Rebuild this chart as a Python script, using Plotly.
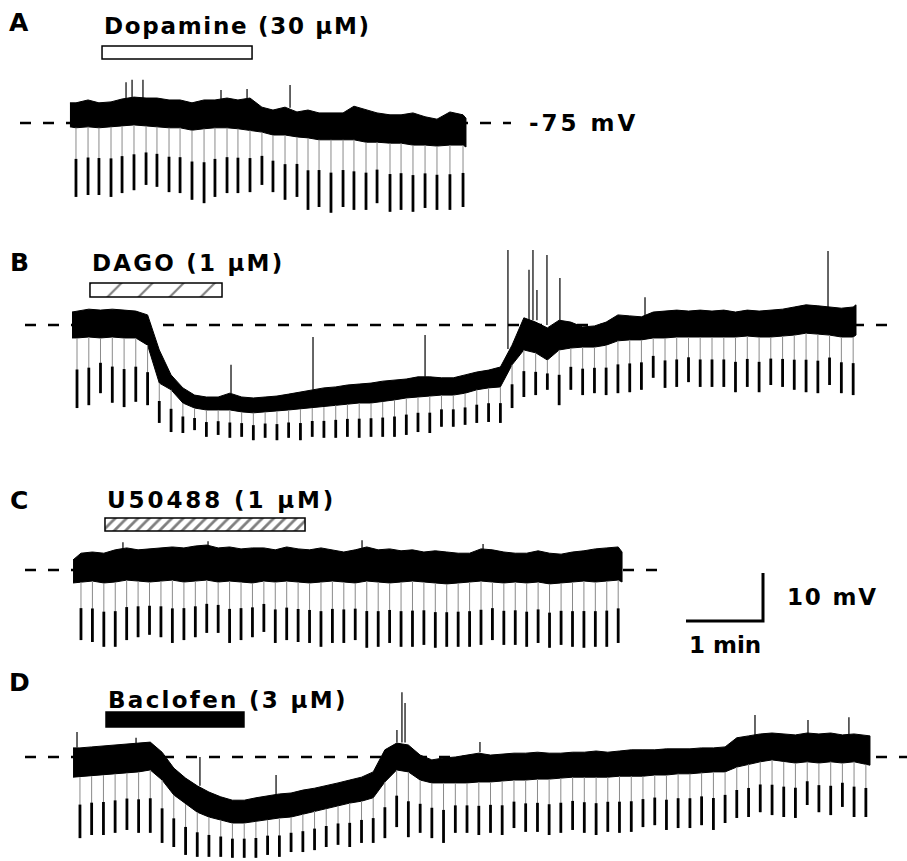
import plotly.graph_objects as go

# ---------------------------------------------------------------
# DATA  (time in s from start of each record,
# membrane potential in mV)
# ---------------------------------------------------------------
REST_MV = -75
SCALE_S = 60        # horizontal scale bar = 1 min
SCALE_MV = 10       # vertical scale bar = 10 mV

panel_letters = ["A", "B", "C", "D"]
drug_names = ["Dopamine (30 μM)", "DAGO (1 μM)", "U50488 (1 μM)", "Baclofen (3 μM)"]
drug_on_s = [23.4, 14.0, 25.7, 26.5]
drug_off_s = [140.3, 116.9, 181.6, 134.0]

# ---- A: dopamine ----
a_start_s, a_end_s = -1.6, 307.0
a_pulse_s = [3.1, 12.5, 21.0, 30.4, 39.0, 48.3, 57.7, 66.2, 75.6, 84.2, 93.5, 102.9,
             111.4, 120.8, 129.3, 138.7, 148.0, 156.6, 166.0, 175.3, 183.9, 192.5,
             201.8, 211.2, 219.7, 229.1, 237.7, 247.8, 256.4, 265.7, 275.1, 284.4,
             294.5, 304.7]
a_trough_mv = [-90.4, -90.0, -90.0, -90.4, -89.6, -89.0, -87.9, -88.3, -89.4, -89.6,
               -91.0, -91.7, -90.4, -89.6, -89.6, -89.4, -87.9, -89.4, -91.0, -90.4,
               -93.1, -92.5, -93.7, -92.5, -93.1, -93.1, -91.7, -93.5, -93.1, -93.5,
               -92.7, -93.1, -93.1, -92.5]
a_top_mv = [-70.8, -70.8, -70.2, -70.8, -70.6, -70.0, -69.6, -69.8, -69.8, -70.2,
            -70.2, -70.8, -70.2, -70.2, -69.8, -70.2, -69.8, -71.7, -72.3, -71.7,
            -72.7, -72.3, -72.9, -72.9, -72.9, -71.5, -72.3, -72.9, -73.3, -73.3,
            -72.9, -73.7, -74.2, -72.7, -73.3, -74.0]
a_bot_mv = [-75.8, -76.0, -75.8, -76.0, -75.8, -75.6, -75.4, -75.6, -75.8, -76.0,
            -76.0, -76.5, -76.2, -76.0, -76.0, -76.2, -76.5, -76.9, -77.5, -77.5,
            -77.9, -78.1, -78.5, -78.5, -78.5, -78.5, -79.0, -79.0, -79.2, -79.2,
            -79.6, -79.6, -79.8, -79.6, -79.6, -80.0]
a_spike_s = [42.1, 46.8, 55.3, 116.1, 136.4, 169.9]
a_spike_base_mv = [-70.0, -69.6, -69.8, -70.2, -69.8, -71.8]
a_spike_peak_mv = [-66.5, -66.0, -66.0, -68.1, -67.9, -67.1]

# ---- B: DAGO ----
b_start_s, b_end_s = 0.0, 610.9
b_pulse_s = [3.9, 13.1, 22.2, 31.4, 40.6, 49.7, 58.9, 68.0, 77.2, 86.4, 95.5, 104.7,
             113.9, 123.0, 132.2, 141.3, 150.5, 159.7, 168.8, 178.0, 187.2, 196.3,
             205.5, 214.6, 223.8, 233.0, 242.1, 251.3, 260.5, 269.6, 278.8, 287.9,
             297.1, 306.3, 315.4, 324.6, 333.8, 342.9, 352.1, 361.3, 370.4, 379.6,
             388.7, 397.9, 407.1, 416.2, 425.4, 434.6, 443.7, 452.9, 462.1, 471.2,
             480.4, 489.5, 498.7, 507.9, 517.0, 526.2, 535.4, 544.5, 553.7, 562.8,
             572.0, 581.2, 590.3, 599.5, 608.7]
b_trough_mv = [-92.3, -91.7, -89.2, -91.2, -92.1, -91.0, -91.7, -95.4, -97.3, -97.5,
               -96.9, -98.3, -97.9, -98.5, -98.3, -99.0, -98.5, -99.0, -98.5, -99.0,
               -98.3, -98.5, -98.5, -98.3, -98.5, -98.3, -98.3, -98.3, -97.9, -97.3,
               -97.5, -96.2, -96.2, -95.8, -95.4, -95.2, -95.4, -92.3, -90.0, -89.6,
               -88.5, -91.7, -88.5, -89.6, -89.2, -89.6, -89.2, -89.0, -88.5, -86.0,
               -88.1, -87.9, -86.9, -87.9, -87.9, -87.9, -89.0, -87.9, -89.0, -87.5,
               -87.9, -88.5, -89.0, -89.2, -87.5, -89.2, -89.6]
b_top_mv = [-72.3, -72.1, -71.7, -71.9, -71.7, -71.9, -72.1, -72.9, -80.2, -85.4,
            -88.1, -89.6, -90.0, -90.0, -89.2, -90.0, -90.2, -90.0, -89.8, -89.4,
            -89.0, -88.5, -88.1, -87.9, -87.5, -87.3, -87.1, -86.7, -86.5, -86.25,
            -85.8, -85.8, -86.0, -86.0, -85.4, -84.8, -84.4, -83.75, -79.2, -73.5,
            -74.4, -75.6, -74.0, -74.4, -75.4, -75.2, -74.4, -72.9, -73.1, -73.3,
            -72.3, -72.1, -71.9, -72.1, -71.9, -72.1, -71.9, -72.3, -71.9, -72.1,
            -71.9, -71.7, -71.25, -70.8, -71.0, -71.25, -71.5, -71.25, -70.8]
b_bot_mv = [-77.7, -77.7, -77.5, -77.7, -77.5, -77.7, -77.7, -79.2, -87.1, -88.5,
            -91.25, -92.3, -92.7, -92.7, -92.7, -93.1, -93.3, -93.1, -92.9, -92.7,
            -92.5, -92.3, -92.1, -91.7, -91.5, -91.25, -91.25, -91.0, -90.6, -90.2,
            -90.0, -89.8, -89.6, -89.6, -89.2, -88.5, -88.1, -87.9, -83.3, -80.2,
            -80.8, -82.3, -80.2, -79.8, -79.6, -79.6, -79.2, -78.3, -78.1, -78.1,
            -77.7, -77.7, -77.5, -77.5, -77.5, -77.5, -77.5, -77.5, -77.3, -77.5,
            -77.5, -77.3, -77.1, -76.7, -76.9, -77.1, -77.5, -77.5, -77.1]
b_spike_s = [123.9, 187.8, 275.1, 339.7, 356.1, 359.2, 362.3, 370.1, 380.2, 446.5, 589.1]
b_spike_base_mv = [-89.2, -88.5, -85.8, -80.0, -74.0, -74.0, -74.0, -75.0, -74.0, -73.0, -71.5]
b_spike_peak_mv = [-83.3, -77.5, -77.1, -59.4, -63.5, -59.4, -67.7, -60.4, -65.2, -69.2, -59.6]

# ---- C: U50488 ----
c_start_s, c_end_s = 0.8, 428.6
c_pulse_s = [7.0, 15.9, 24.8, 33.7, 42.6, 51.5, 60.4, 69.3, 78.2, 87.2, 96.1, 105.0,
             113.9, 122.8, 131.7, 140.6, 149.5, 158.4, 167.3, 176.2, 185.1, 194.0,
             202.9, 211.8, 220.7, 229.7, 238.6, 247.5, 256.4, 265.3, 274.2, 283.1,
             292.0, 300.9, 309.8, 318.7, 327.6, 336.5, 345.4, 354.3, 363.2, 372.1,
             381.1, 390.0, 398.9, 407.8, 416.7, 425.6]
c_trough_mv = [-89.6, -90.0, -91.0, -91.0, -89.6, -89.0, -88.5, -89.0, -90.2, -89.6,
               -89.0, -88.1, -88.1, -90.2, -89.6, -89.0, -87.9, -90.2, -89.6, -90.0,
               -90.2, -91.0, -90.2, -90.2, -89.6, -91.2, -91.0, -90.2, -91.0, -91.0,
               -90.6, -91.2, -91.0, -91.0, -91.0, -90.6, -89.6, -90.6, -90.6, -91.0,
               -90.2, -91.2, -90.6, -91.0, -91.2, -91.0, -91.0, -90.2]
c_top_mv = [-72.9, -71.5, -71.25, -71.5, -70.8, -70.4, -70.8, -70.6, -70.4, -70.2,
            -70.4, -70.0, -69.8, -70.4, -70.2, -70.6, -70.4, -70.4, -70.8, -70.2,
            -70.6, -70.8, -70.4, -70.8, -71.25, -70.8, -70.2, -70.8, -70.6, -71.0,
            -70.8, -71.25, -71.0, -71.25, -71.5, -71.5, -70.6, -70.8, -71.25, -71.5,
            -71.5, -71.0, -71.5, -71.7, -71.25, -71.0, -70.6, -70.4, -70.2, -71.25]
c_bot_mv = [-77.7, -77.5, -77.3, -77.7, -77.5, -77.1, -77.3, -77.5, -77.3, -77.1,
            -77.5, -77.3, -77.1, -77.5, -77.3, -77.5, -77.7, -77.3, -77.5, -77.3,
            -77.5, -77.7, -77.5, -77.3, -77.5, -77.7, -77.3, -77.5, -77.7, -77.5,
            -77.3, -77.5, -77.7, -77.9, -77.7, -77.5, -77.3, -77.5, -77.7, -77.5,
            -77.7, -77.5, -77.9, -77.7, -77.5, -77.3, -77.5, -77.3, -77.1, -77.5]
c_spike_s = [39.7, 106.0, 226.0, 320.3]
c_spike_base_mv = [-71.0, -70.5, -71.0, -71.0]
c_spike_peak_mv = [-69.2, -69.0, -68.8, -69.6]

# ---- D: baclofen ----
d_start_s, d_end_s = 0.8, 621.8
d_pulse_s = [6.2, 15.3, 24.5, 33.6, 42.8, 51.9, 61.0, 70.2, 79.3, 88.5, 97.6, 106.7,
             115.9, 125.0, 134.2, 143.3, 152.4, 161.6, 170.7, 179.9, 189.0, 198.1,
             207.3, 216.4, 225.6, 234.7, 243.8, 253.0, 262.1, 271.3, 280.4, 289.5,
             298.7, 307.8, 317.0, 326.1, 335.2, 344.4, 353.5, 362.7, 371.8, 380.9,
             390.1, 399.2, 408.4, 417.5, 426.6, 435.8, 444.9, 454.1, 463.2, 472.3,
             481.5, 490.6, 499.8, 508.9, 518.0, 527.2, 536.3, 545.5, 554.6, 563.7,
             572.9, 582.0, 591.2, 600.3, 609.4, 618.6]
d_trough_mv = [-91.9, -91.25, -91.25, -90.8, -90.2, -90.8, -90.8, -92.9, -93.75, -95.4,
               -95.8, -95.8, -95.8, -96.0, -96.0, -96.0, -95.4, -95.8, -94.8, -94.8,
               -94.4, -93.75, -93.3, -93.75, -92.9, -92.9, -91.9, -89.6, -91.7, -90.8,
               -91.9, -92.9, -90.8, -90.8, -91.25, -90.8, -91.25, -89.8, -90.6, -90.6,
               -91.25, -90.8, -90.2, -90.8, -91.25, -90.6, -90.8, -90.6, -89.6, -89.2,
               -90.2, -89.8, -89.8, -89.2, -90.2, -88.75, -87.7, -87.5, -86.5, -87.1,
               -87.5, -87.7, -85.0, -86.5, -87.1, -85.4, -87.5, -87.5]
d_top_mv = [-73.1, -73.1, -72.9, -72.7, -72.5, -72.3, -72.1, -71.9, -74.0, -77.3,
            -79.4, -81.0, -82.3, -83.3, -84.0, -84.0, -83.5, -83.1, -82.7, -82.5,
            -81.9, -81.5, -81.0, -80.4, -79.8, -79.2, -78.1, -73.5, -72.1, -72.5,
            -74.6, -75.6, -75.2, -75.0, -74.6, -74.2, -74.6, -74.4, -74.2, -74.2,
            -74.0, -74.2, -74.2, -74.0, -74.0, -73.75, -74.0, -73.75, -73.5, -73.5,
            -73.5, -73.3, -73.3, -73.3, -73.1, -73.1, -72.9, -71.0, -70.6, -70.2,
            -70.0, -70.2, -70.4, -70.0, -70.2, -70.0, -70.4, -70.2, -70.4, -70.6]
d_bot_mv = [-79.2, -79.2, -79.0, -78.75, -78.5, -78.3, -78.1, -77.7, -79.8, -82.9,
            -84.8, -86.5, -87.5, -88.1, -88.75, -88.75, -88.5, -88.1, -87.7, -87.5,
            -86.9, -86.25, -85.8, -85.2, -84.6, -84.2, -83.5, -80.2, -77.7, -78.1,
            -79.8, -80.4, -80.4, -80.4, -80.4, -80.2, -80.2, -80.0, -79.8, -79.8,
            -79.6, -79.6, -79.4, -79.2, -79.2, -79.2, -79.2, -79.0, -79.0, -79.0,
            -78.75, -78.75, -78.5, -78.5, -78.3, -78.1, -78.1, -77.1, -76.5, -76.0,
            -75.6, -76.0, -76.25, -76.0, -76.25, -76.0, -76.25, -76.0, -76.5, -76.7]
d_spike_s = [3.9, 49.9, 99.7, 159.0, 253.2, 257.1, 259.5, 317.9, 532.2, 573.5, 605.4]
d_spike_base_mv = [-73.0, -72.2, -81.0, -82.9, -72.0, -72.0, -72.0, -74.0, -70.5, -70.5, -70.5]
d_spike_peak_mv = [-69.8, -71.0, -75.0, -78.75, -69.4, -61.5, -63.75, -71.9, -66.25, -67.3, -66.7]

# ---------------------------------------------------------------
# LAYOUT CONSTANTS (pixels of the 907 x 861 page)
# ---------------------------------------------------------------
W, H = 907, 861
PX_PER_S = 77 / 60          # 1 min = 77 px
PX_PER_MV = 4.8             # 10 mV = 48 px
X0_PX = 72                  # page x of t = 0
BASELINE_PX = [123, 325, 570, 757]
DASH_PX = [(20, 511), (25, 894), (25, 664), (25, 907)]
BAR_PX = [(52.5, 13), (290, 14), (524.5, 13), (719.5, 15)]   # centre y, height
LABEL_PY = [26, 263, 500, 700]
LABEL_SPACING = [1.7, 2.2, 2.9, 2.3]
LETTER_PY = [22, 263, 500, 682]
LETTER_PX = 19
FONT = "DejaVu Sans"
PULSE_BLACK_FRACTION = 0.55


def tx(px):
    return (px - X0_PX) / PX_PER_S


def ymv(k, py):
    return REST_MV + (BASELINE_PX[k] - py) / PX_PER_MV


def spaced(text, px):
    return f'<span style="letter-spacing:{px}px"><b>{text}</b></span>'


panels = [
    (a_start_s, a_end_s, a_pulse_s, a_trough_mv, a_top_mv, a_bot_mv,
     a_spike_s, a_spike_base_mv, a_spike_peak_mv),
    (b_start_s, b_end_s, b_pulse_s, b_trough_mv, b_top_mv, b_bot_mv,
     b_spike_s, b_spike_base_mv, b_spike_peak_mv),
    (c_start_s, c_end_s, c_pulse_s, c_trough_mv, c_top_mv, c_bot_mv,
     c_spike_s, c_spike_base_mv, c_spike_peak_mv),
    (d_start_s, d_end_s, d_pulse_s, d_trough_mv, d_top_mv, d_bot_mv,
     d_spike_s, d_spike_base_mv, d_spike_peak_mv),
]

bar_markers = [
    dict(color="white", line=dict(color="black", width=1.5)),
    dict(color="white", line=dict(color="black", width=1.5),
         pattern=dict(shape="/", size=22, solidity=0.1, fgcolor="black", bgcolor="white")),
    dict(color="white", line=dict(color="black", width=1.5),
         pattern=dict(shape="/", size=8, solidity=0.35, fgcolor="black", bgcolor="white")),
    dict(color="black", line=dict(color="black", width=1.5)),
]

fig = go.Figure()
shapes, annotations = [], []

for k, (t0, t1, pulse, trough, top, bot, spk, spk_b, spk_p) in enumerate(panels):
    ya = "y" if k == 0 else f"y{k + 1}"

    # noisy baseline band
    bt = [t0] + list(pulse) + [t1]
    fig.add_trace(go.Scatter(
        x=bt + bt[::-1], y=list(top) + list(bot)[::-1], yaxis=ya,
        mode="lines", fill="toself", fillcolor="black",
        line=dict(color="black", width=1), hoverinfo="skip"))

    # hyperpolarising pulses: faint fast edge + dark steady part
    gx, gy, kx, ky = [], [], [], []
    for t, b, tr in zip(pulse, bot[1:-1], trough):
        gx += [t, t, None]
        gy += [b, tr, None]
        m = b + (tr - b) * (1 - PULSE_BLACK_FRACTION)
        kx += [t, t, None]
        ky += [m, tr, None]
    fig.add_trace(go.Scatter(x=gx, y=gy, yaxis=ya, mode="lines",
                             line=dict(color="#8a8a8a", width=1), hoverinfo="skip"))
    fig.add_trace(go.Scatter(x=kx, y=ky, yaxis=ya, mode="lines",
                             line=dict(color="black", width=2.8), hoverinfo="skip"))

    # upward spikes
    sx, sy = [], []
    for t, b, p in zip(spk, spk_b, spk_p):
        sx += [t, t, None]
        sy += [b, p, None]
    fig.add_trace(go.Scatter(x=sx, y=sy, yaxis=ya, mode="lines",
                             line=dict(color="black", width=1.2), hoverinfo="skip"))

    # drug application bar
    cy, hh = BAR_PX[k]
    fig.add_trace(go.Bar(
        orientation="h", base=[drug_on_s[k]], x=[drug_off_s[k] - drug_on_s[k]],
        y=[ymv(k, cy)], width=[hh / PX_PER_MV], yaxis=ya,
        marker=bar_markers[k], hoverinfo="skip"))

    # dashed resting-potential line
    x0p, x1p = DASH_PX[k]
    shapes.append(dict(type="line", xref="x", yref=ya, layer="below",
                       x0=tx(x0p), x1=tx(x1p), y0=REST_MV, y1=REST_MV,
                       line=dict(color="black", width=2.5, dash="11px,12px")))

    # panel letter and drug label
    annotations.append(dict(
        xref="paper", yref="paper", x=LETTER_PX / W, y=1 - LETTER_PY[k] / H,
        text=f"<b>{panel_letters[k]}</b>", showarrow=False,
        xanchor="center", yanchor="middle",
        font=dict(family=FONT, size=25, color="black")))
    annotations.append(dict(
        xref="x", yref="paper", x=drug_on_s[k], y=1 - LABEL_PY[k] / H,
        text=spaced(drug_names[k], LABEL_SPACING[k]), showarrow=False,
        xanchor="left", yanchor="middle",
        font=dict(family=FONT, size=23, color="black")))

# resting potential label
annotations.append(dict(
    xref="x", yref="y", x=tx(527), y=REST_MV, text=spaced(f"{REST_MV} mV", 3),
    showarrow=False, xanchor="left", yanchor="middle",
    font=dict(family=FONT, size=23, color="black")))

# scale bar (drawn in panel C coordinates)
sb_x1 = tx(763)
sb_y0 = ymv(2, 621)
fig.add_trace(go.Scatter(
    x=[sb_x1 - SCALE_S, sb_x1, sb_x1], y=[sb_y0, sb_y0, sb_y0 + SCALE_MV],
    yaxis="y3", mode="lines", line=dict(color="black", width=3),
    hoverinfo="skip"))
annotations.append(dict(
    xref="x", yref="y3", x=tx(785), y=sb_y0 + SCALE_MV / 2,
    text=spaced(f"{SCALE_MV} mV", 1.8), showarrow=False, xanchor="left", yanchor="middle",
    font=dict(family=FONT, size=23, color="black")))
annotations.append(dict(
    xref="x", yref="y3", x=sb_x1 - SCALE_S / 2, y=ymv(2, 645),
    text="<b>1 min</b>", showarrow=False, xanchor="center", yanchor="middle",
    font=dict(family=FONT, size=23, color="black")))

layout = dict(
    width=W, height=H, margin=dict(l=0, r=0, t=0, b=0),
    paper_bgcolor="white", plot_bgcolor="white", showlegend=False,
    barmode="overlay",
    xaxis=dict(range=[tx(0), tx(W)], visible=False, fixedrange=True),
    shapes=shapes, annotations=annotations,
)
for k in range(4):
    key = "yaxis" if k == 0 else f"yaxis{k + 1}"
    ax = dict(range=[ymv(k, H), ymv(k, 0)], visible=False, fixedrange=True)
    if k > 0:
        ax["overlaying"] = "y"
    layout[key] = ax
fig.update_layout(**layout)

fig.write_html("out.html", config={"displayModeBar": False},
               post_script="document.body.style.margin='0';")
